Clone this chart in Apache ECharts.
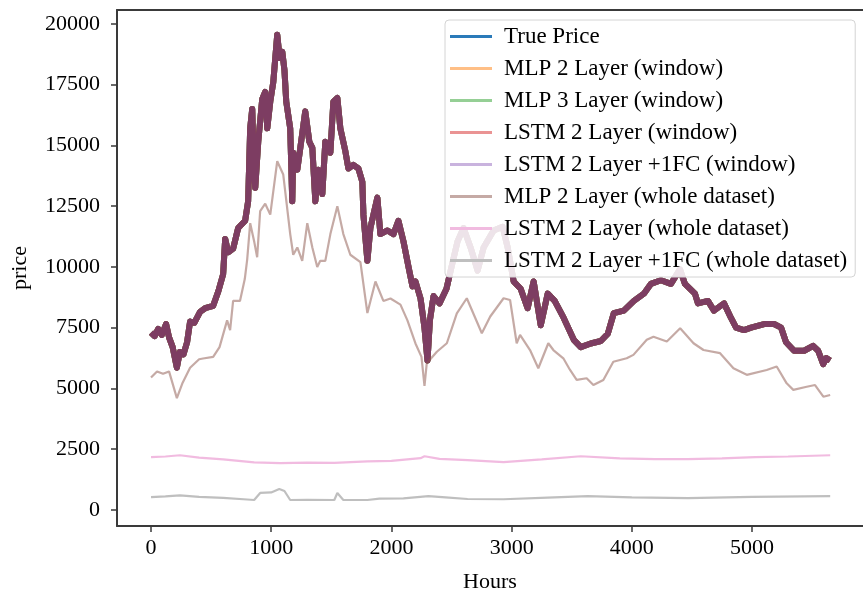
<!DOCTYPE html>
<html>
<head>
<meta charset="utf-8">
<script src="https://cdn.jsdelivr.net/npm/echarts@6/dist/echarts.min.js"></script>
<style>html,body{margin:0;padding:0;background:#fff;}#c{width:863px;height:594px;}</style>
</head>
<body>
<div id="c"></div>
<script>
// Series names (legend order)
const seriesNames = [
  'True Price',
  'MLP 2 Layer (window)',
  'MLP 3 Layer (window)',
  'LSTM 2 Layer (window)',
  'LSTM 2 Layer +1FC (window)',
  'MLP 2 Layer (whole dataset)',
  'LSTM 2 Layer (whole dataset)',
  'LSTM 2 Layer +1FC (whole dataset)'
];
const xTicks = [0, 1000, 2000, 3000, 4000, 5000];
const yTicks = [0, 2500, 5000, 7500, 10000, 12500, 15000, 17500, 20000];

// [hour, price]
const truePrice = [
  [0,7300],[30,7150],[60,7450],[90,7200],[125,7650],[150,7100],[180,6700],[215,5850],[240,6500],[270,6400],
  [300,6900],[325,7750],[360,7700],[408,8150],[450,8300],[517,8400],[560,9000],[600,9700],[617,11150],[642,10600],
  [683,10750],[725,11600],[783,11900],[808,12700],[825,15700],[842,16500],[855,14100],[867,13250],[892,15150],[925,16900],
  [950,17200],[967,15700],[992,16800],[1017,17600],[1050,19550],[1070,18600],[1092,18850],[1110,18100],[1125,16800],[1158,15700],
  [1175,12700],[1183,14700],[1217,14000],[1242,14900],[1283,16400],[1317,15150],[1342,14900],[1367,12700],[1392,14000],[1425,13000],
  [1450,15150],[1492,14700],[1517,16800],[1550,16950],[1575,15700],[1617,14750],[1642,14050],[1683,14200],[1725,14050],[1758,13500],
  [1767,12150],[1800,10250],[1825,11600],[1883,12850],[1908,11350],[1967,11500],[2017,11350],[2058,11900],[2100,11050],[2142,10000],
  [2175,9200],[2200,9400],[2242,8700],[2275,7500],[2300,6150],[2320,7800],[2350,8800],[2400,8500],[2458,9100],[2500,10000],
  [2550,11050],[2600,11600],[2658,10800],[2717,9850],[2767,10800],[2850,11500],[2925,11650],[2967,10800],[3017,9400],[3075,9100],
  [3133,8300],[3183,9400],[3242,7600],[3300,8900],[3358,8600],[3433,7900],[3517,7000],[3575,6700],[3658,6850],[3742,6950],
  [3800,7250],[3850,8100],[3933,8200],[4017,8600],[4100,8900],[4158,9300],[4242,9450],[4325,9300],[4400,9900],[4442,9300],
  [4525,8900],[4550,8500],[4633,8600],[4683,8200],[4767,8500],[4825,7900],[4867,7500],[4933,7400],[4992,7500],[5100,7650],
  [5183,7650],[5242,7500],[5283,6900],[5350,6550],[5433,6550],[5508,6750],[5550,6550],[5592,6000],[5617,6250],[5650,6150]
];
const mlpWhole = [
  [0,5450],[50,5700],[100,5600],[150,5700],[215,4600],[260,5200],[325,5850],[400,6200],[433,6230],[517,6300],
  [570,6700],[633,7800],[658,7400],[683,8600],[740,8600],[780,9500],[800,10300],[825,11800],[860,11000],[883,10400],
  [908,12300],[950,12600],[992,12150],[1050,14350],[1100,13800],[1158,11350],[1183,10500],[1217,10800],[1258,10250],[1300,11800],
  [1342,10800],[1383,10000],[1408,10250],[1450,10250],[1492,11350],[1550,12500],[1600,11350],[1658,10500],[1742,10200],[1800,8100],
  [1867,9400],[1933,8600],[1992,8700],[2075,8450],[2133,7800],[2200,6850],[2250,6300],[2275,5100],[2294,6040],[2378,6510],
  [2461,6860],[2544,8090],[2627,8710],[2752,7270],[2822,7960],[2933,8710],[2987,8640],[3042,6860],[3070,7200],[3153,6580],
  [3222,5830],[3305,6860],[3347,6580],[3430,6240],[3486,5760],[3541,5350],[3624,5420],[3680,5140],[3763,5350],[3846,6100],
  [3957,6240],[4013,6380],[4124,7000],[4180,7130],[4291,6930],[4402,7480],[4513,6860],[4596,6580],[4734,6450],[4845,5830],
  [4956,5560],[5122,5760],[5205,5900],[5288,5210],[5343,4940],[5455,5070],[5524,5140],[5593,4660],[5650,4730]
];
const lstmWhole = [
  [0,2170],[120,2200],[240,2250],[400,2150],[600,2080],[858,1960],[1075,1930],[1300,1950],[1525,1940],[1800,2000],
  [2000,2020],[2242,2130],[2275,2210],[2400,2100],[2633,2050],[2933,1970],[3250,2080],[3575,2210],[3900,2120],[4192,2090],
  [4467,2090],[4750,2120],[5025,2170],[5300,2200],[5650,2250]
];
const lstmFcWhole = [
  [0,530],[120,560],[240,600],[400,540],[600,500],[800,430],[858,410],[908,700],[1000,720],[1067,860],
  [1110,780],[1158,410],[1300,420],[1525,410],[1550,700],[1600,410],[1800,410],[1900,470],[2100,480],[2308,570],
  [2450,520],[2633,450],[2933,440],[3300,510],[3633,570],[4000,520],[4467,490],[5000,540],[5650,570]
];

const windowColors = ['#1f77b4','rgba(255,127,14,0.5)','rgba(44,160,44,0.5)','rgba(214,39,40,0.5)','rgba(148,103,189,0.5)'];
const legendColors = ['#2a7ab9','#ffbf86','#95cf95','#ea9393','#c9b3de','#c5aaa5','#f1bbe0','#bfbfbf'];

const series = [];
for (let i = 0; i < 5; i++) {
  series.push({
    name: seriesNames[i], type: 'line', data: truePrice, showSymbol: false, silent: true,
    itemStyle: { color: windowColors[i] },
    lineStyle: { width: 6, color: i === 4 ? '#7d3d62' : windowColors[i], join: 'round' }
  });
}
series.push({ name: seriesNames[5], type: 'line', data: mlpWhole, showSymbol: false, silent: true,
  itemStyle: { color: 'rgba(140,86,75,0.5)' }, lineStyle: { width: 2.2, color: 'rgba(140,86,75,0.5)' } });
series.push({ name: seriesNames[6], type: 'line', data: lstmWhole, showSymbol: false, silent: true,
  itemStyle: { color: 'rgba(227,119,194,0.5)' }, lineStyle: { width: 2.2, color: 'rgba(227,119,194,0.5)' } });
series.push({ name: seriesNames[7], type: 'line', data: lstmFcWhole, showSymbol: false, silent: true,
  itemStyle: { color: 'rgba(127,127,127,0.5)' }, lineStyle: { width: 2.2, color: 'rgba(127,127,127,0.5)' } });

const font = 'Liberation Serif';
const spine = { show: true, onZero: false, lineStyle: { color: '#3a3a3a', width: 2 } };
const plain = v => String(v);

const chart = echarts.init(document.getElementById('c'));
chart.setOption({
  animation: false,
  backgroundColor: '#fff',
  textStyle: { fontFamily: font },
  grid: { left: 117, top: 10, right: 0, bottom: 68, containLabel: false, outerBoundsMode: 'none' },
  xAxis: [{
    type: 'value', min: -283, max: 5923,
    axisLine: spine,
    axisTick: { show: true, length: 6, lineStyle: { color: '#3a3a3a', width: 1.5 }, customValues: xTicks },
    axisLabel: { customValues: xTicks, formatter: plain, fontFamily: font, fontSize: 22, color: '#000', margin: 11 },
    splitLine: { show: false },
    name: 'Hours', nameLocation: 'middle', nameGap: 45,
    nameTextStyle: { fontFamily: font, fontSize: 22, color: '#000' }
  }, {
    type: 'value', position: 'top', min: -283, max: 5923,
    axisLine: spine, axisTick: { show: false }, axisLabel: { show: false }, splitLine: { show: false }
  }],
  yAxis: {
    type: 'value', min: -660, max: 20570,
    axisLine: spine,
    axisTick: { show: true, length: 6, lineStyle: { color: '#3a3a3a', width: 1.5 }, customValues: yTicks },
    axisLabel: { customValues: yTicks, formatter: plain, fontFamily: font, fontSize: 22, color: '#000', margin: 17 },
    splitLine: { show: false },
    name: 'price', nameLocation: 'middle', nameGap: 86, nameRotate: 90,
    nameTextStyle: { fontFamily: font, fontSize: 22, color: '#000' }
  },
  legend: {
    orient: 'vertical', left: 445, top: 20,
    icon: 'rect', itemWidth: 42, itemHeight: 3, itemGap: 9,
    padding: [5, 8, 5, 5],
    backgroundColor: 'rgba(255,255,255,0.86)', borderColor: '#d4d4d4', borderWidth: 1, borderRadius: 4,
    textStyle: { fontFamily: font, fontSize: 23, color: '#000', padding: [0, 0, 0, 7] },
    selectedMode: false,
    data: seriesNames.map((n, i) => ({ name: n, itemStyle: { color: legendColors[i] } }))
  },
  series: series
});
</script>
</body>
</html>
